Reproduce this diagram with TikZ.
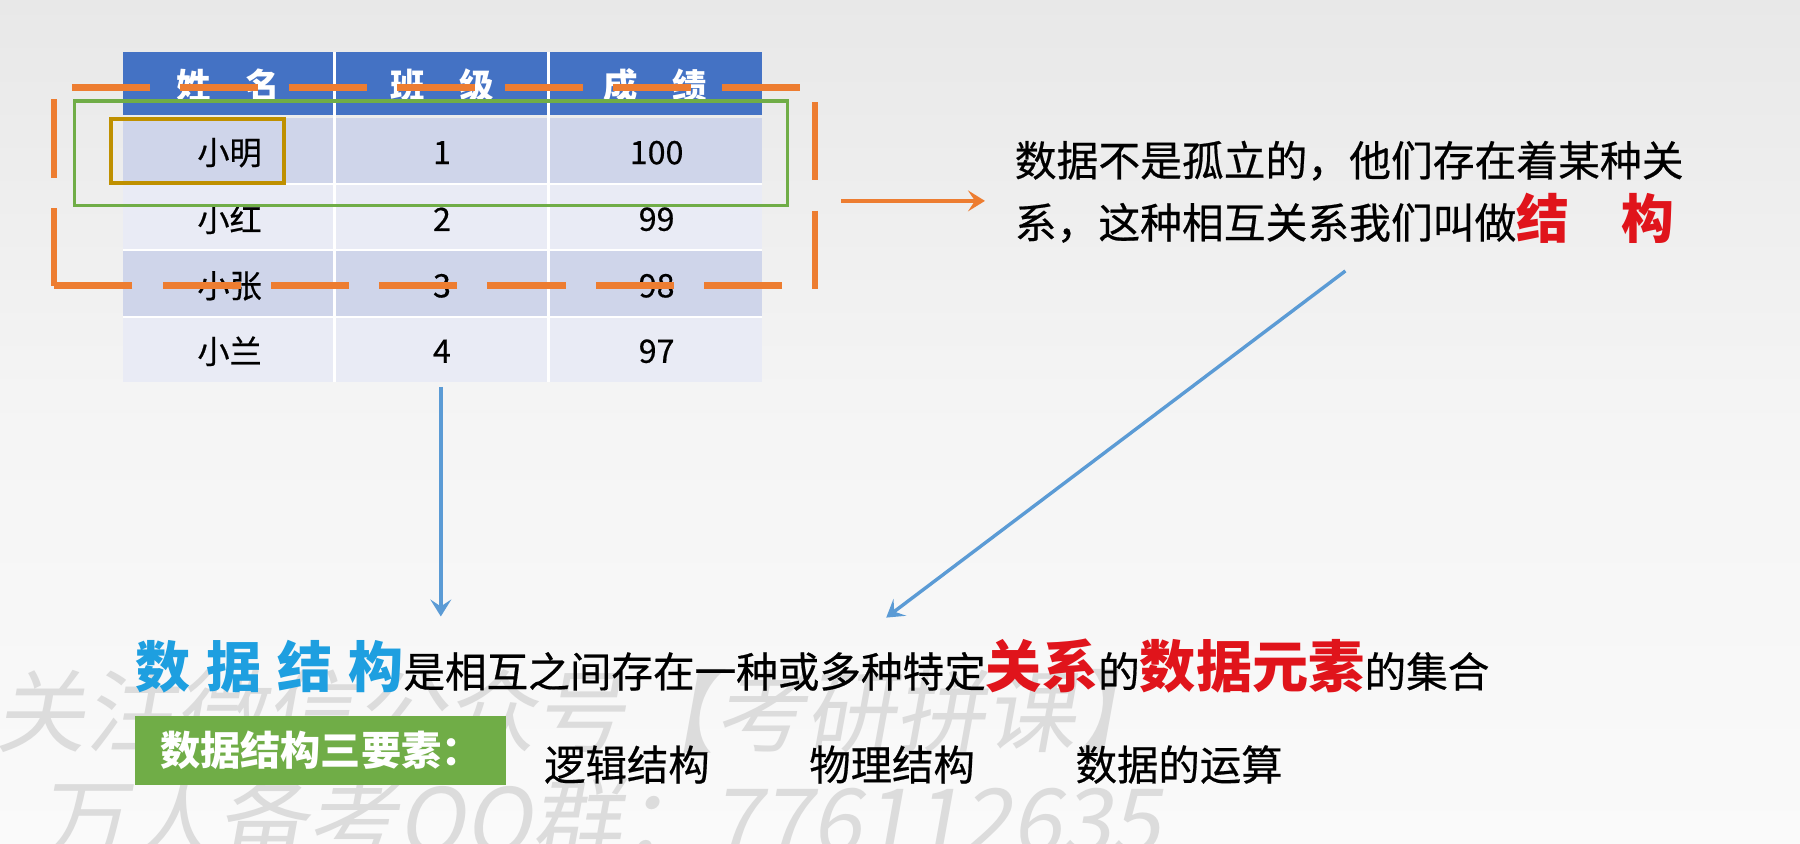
\documentclass[tikz,border=0pt]{standalone}
\usepackage{fontspec}
\setmainfont{Noto Sans CJK SC}
\newfontfamily\bodyfont{Noto Sans CJK SC}[FakeBold=0.5]
\newfontfamily\wmfont{Noto Sans CJK SC}[FakeSlant=0.18]
\usetikzlibrary{arrows.meta}

\definecolor{hdrblue}{HTML}{4472C4}
\definecolor{rowA}{HTML}{CFD5EA}
\definecolor{rowB}{HTML}{E9EBF5}
\definecolor{grporange}{HTML}{ED7D31}
\definecolor{rowgreen}{HTML}{70AD47}
\definecolor{cellgold}{HTML}{BF9000}
\definecolor{arrowblue}{HTML}{5B9BD5}
\definecolor{titleblue}{HTML}{1E9FE0}
\definecolor{keyred}{HTML}{E0141B}
\definecolor{wmgray}{HTML}{DCDCDC}

\newcommand\fsz[1]{\fontsize{#1}{#1}\selectfont}

\tikzset{
  txt/.style={inner sep=0pt, outer sep=0pt},
  cell/.style={txt, font=\bodyfont\fsz{16.1pt}, text=black},
  hcell/.style={txt, font=\fsz{17.2pt}\bfseries, text=white},
  body/.style={txt, anchor=west, font=\bodyfont\fsz{20.8pt}, text=black},
  wm/.style={txt, anchor=west, font=\wmfont\fsz{45pt}, text=wmgray},
  tipstyle/.style={-{Stealth[length=8.5pt,width=10.5pt,inset=3.5pt]}},
  bluearrow/.style={draw=arrowblue, line width=1.7pt, tipstyle},
  orangearrow/.style={draw=grporange, line width=2pt, tipstyle},
}

\begin{document}
\begin{tikzpicture}[x=0.574pt, y=-0.574pt]
  \useasboundingbox (0,0) rectangle (1568,735);
  % page background
  \shade[top color=black!9, bottom color=black!2, middle color=black!4] (0,0) rectangle (1568,735);

  % watermark lines
  \node[wm] (wm1) at (-4,620) {关注微信公众号【考研拼课】};
  \node[wm] (wm2) at (33,718) {万人备考QQ群：776112635};

  % table body
  \fill[hdrblue] (107,45) rectangle (664,100);
  \fill[rowA] (107,103) rectangle (664,160);
  \fill[rowB] (107,160) rectangle (664,218);
  \fill[rowA] (107,218) rectangle (664,276);
  \fill[rowB] (107,276) rectangle (664,333);
  \draw[white, line width=1.5] (291,45) -- (291,333) (478,45) -- (478,333);
  \draw[white, line width=1] (107,160) -- (664,160) (107,218) -- (664,218) (107,276) -- (664,276);

  % header
  \node[hcell] (hname)  at (199,74) {姓　名};
  \node[hcell] (hclass) at (385,74) {班　级};
  \node[hcell] (hscore) at (571,74) {成　绩};
  % rows
  \node[cell] (n1) at (200,133) {小明};
  \node[cell] (c1) at (385,133) {1};
  \node[cell] (s1) at (572,133) {100};
  \node[cell] (n2) at (200,191) {小红};
  \node[cell] (c2) at (385,191) {2};
  \node[cell] (s2) at (572,191) {99};
  \node[cell] (n3) at (200,249) {小张};
  \node[cell] (c3) at (385,249) {3};
  \node[cell] (s3) at (572,249) {98};
  \node[cell] (n4) at (200,306) {小兰};
  \node[cell] (c4) at (385,306) {4};
  \node[cell] (s4) at (572,306) {97};

  % highlights: one record, one element, several records
  \draw[rowgreen, line width=1.7pt] (65,88) rectangle (686,179);
  \draw[cellgold, line width=2pt] (97,104) rectangle (247,159);
  \draw[grporange, line width=3.4pt, dash pattern=on 39.03pt off 15.12pt]
    (47,249) -- (47,76) -- (710,76) -- (710,249) -- cycle;

  % explanation on the right
  \node[body, font=\bodyfont\fsz{20.9pt}] (rel1) at (884,140) {数据不是孤立的，他们存在着某种关};
  \node[body, font=\bodyfont\fsz{20.9pt}] (rel2) at (884,190) {系，这种相互关系我们叫做{\color{keyred}\normalfont\fsz{26.4pt}\bfseries 结　构}};

  % definition line
  \node[body] (def) at (118,580) {{\color{titleblue}\normalfont\fsz{27.5pt}\bfseries 数\hspace{8pt}据\hspace{8pt}结\hspace{8pt}构}是相互之间存在一种或多种特定{\color{keyred}\normalfont\fsz{28.1pt}\bfseries 关系}的{\color{keyred}\normalfont\fsz{28.1pt}\bfseries 数据元素}的集合};

  % three elements
  \node[txt, anchor=north west, fill=rowgreen, minimum width=185.4pt, minimum height=34.4pt,
        text=white, font=\fsz{20.1pt}\bfseries] (lab) at (118,624) {数据结构三要素：};
  \node[body, font=\bodyfont\fsz{20.7pt}] (e1) at (474,666) {逻辑结构};
  \node[body, font=\bodyfont\fsz{20.7pt}] (e2) at (705,666) {物理结构};
  \node[body, font=\bodyfont\fsz{20.7pt}] (e3) at (937,666) {数据的运算};

  % connectors
  \coordinate (grpE)  at (733,175);
  \coordinate (relW)  at (858,175);
  \coordinate (tabS)  at (384,337);
  \coordinate (defA)  at (384,537);
  \coordinate (relS)  at (1172,236);
  \coordinate (defB)  at (772,538);
  \draw[orangearrow] (grpE) -- (relW);
  \draw[bluearrow] (tabS) -- (defA);
  \draw[bluearrow] (relS) -- (defB);
\end{tikzpicture}
\end{document}
